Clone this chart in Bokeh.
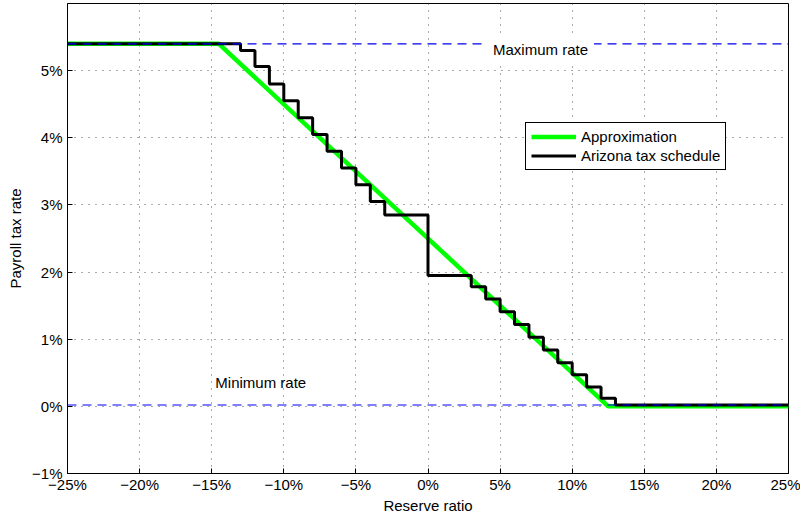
from bokeh.plotting import figure
from bokeh.models import Range1d, FixedTicker, Label, Legend, LegendItem, Span
from bokeh.embed import file_html
from bokeh.resources import INLINE

# ---- data ----
x_ticks = [-25, -20, -15, -10, -5, 0, 5, 10, 15, 20, 25]
x_tick_labels = ["\u221225%", "\u221220%", "\u221215%", "\u221210%", "\u22125%", "0%",
                 "5%", "10%", "15%", "20%", "25%"]
y_ticks = [-1, 0, 1, 2, 3, 4, 5]
y_tick_labels = ["\u22121%", "0%", "1%", "2%", "3%", "4%", "5%"]

# linear approximation (reserve ratio %, payroll tax rate %)
approx_ratio = [-25, -14.5, 12.5, 25]
approx_rate = [5.4, 5.4, 0.0, 0.0]

# Arizona tax schedule: rate applies from each ratio up to the next
schedule_ratio = [-25, -13, -12, -11, -10, -9, -8, -7, -6, -5, -4, -3, 0,
                  3, 4, 5, 6, 7, 8, 9, 10, 11, 12, 13, 25]
schedule_rate = [5.40, 5.30, 5.06, 4.80, 4.55, 4.30, 4.05, 3.80, 3.55, 3.30, 3.05, 2.85, 1.95,
                 1.78, 1.60, 1.41, 1.22, 1.03, 0.84, 0.65, 0.47, 0.29, 0.12, 0.02, 0.02]

max_rate = 5.40
min_rate = 0.02

FONT = "Liberation Sans"
FS = "15px"

p = figure(width=800, height=516,
           x_range=Range1d(-25, 25), y_range=Range1d(-1, 6.0),
           output_backend="svg", toolbar_location=None,
           min_border_left=67, min_border_right=12,
           min_border_top=3, min_border_bottom=43)

p.outline_line_color = "black"
p.outline_line_width = 1
p.outline_line_alpha = 1
p.background_fill_color = "white"
p.border_fill_color = "white"

# axes
for ax in (p.xaxis[0], p.yaxis[0]):
    ax.axis_line_color = "black"
    ax.major_tick_line_color = "black"
    ax.major_tick_in = 5
    ax.major_tick_out = 0
    ax.minor_tick_line_color = None
    ax.major_label_text_font = FONT
    ax.major_label_text_font_size = FS
    ax.major_label_text_color = "black"
    ax.axis_label_text_font = FONT
    ax.axis_label_text_font_size = FS
    ax.axis_label_text_font_style = "normal"
    ax.axis_label_text_color = "black"

p.xaxis.ticker = FixedTicker(ticks=x_ticks)
p.xaxis.major_label_overrides = dict(zip(x_ticks, x_tick_labels))
p.xaxis.axis_label = "Reserve ratio"
p.xaxis.major_label_standoff = 2
p.xaxis.axis_label_standoff = 1

p.yaxis.ticker = FixedTicker(ticks=y_ticks)
p.yaxis.major_label_overrides = dict(zip(y_ticks, y_tick_labels))
p.yaxis.axis_label = "Payroll tax rate"
p.yaxis.major_label_standoff = 5
p.yaxis.axis_label_standoff = 5

# grid
p.xgrid.ticker = FixedTicker(ticks=x_ticks)
p.ygrid.ticker = FixedTicker(ticks=y_ticks)
for g in (p.xgrid[0], p.ygrid[0]):
    g.grid_line_color = "#444444"
    g.grid_line_dash = "1 6"
    g.grid_line_alpha = 0.9
    g.grid_line_width = 1

# data lines
r_approx = p.line(approx_ratio, approx_rate, line_color="#00ff00", line_width=4.5)
r_sched = p.step(schedule_ratio, schedule_rate, mode="after", line_color="black", line_width=3)

# max / min rate lines
p.add_layout(Span(location=max_rate, dimension="width", line_color="#0000ee",
                  line_width=1.3, line_dash="9 6"))
p.add_layout(Span(location=min_rate, dimension="width", line_color="blue",
                  line_alpha=0.5, line_width=2, line_dash="9 6"))

p.add_layout(Label(x=7.8, y=5.32, text="Maximum rate", text_align="center",
                   text_baseline="middle", text_font=FONT, text_font_size=FS,
                   text_color="black", background_fill_color="white",
                   background_fill_alpha=1, padding=6))
p.add_layout(Label(x=-11.6, y=0.36, text="Minimum rate", text_align="center",
                   text_baseline="middle", text_font=FONT, text_font_size=FS,
                   text_color="black"))

legend = Legend(items=[LegendItem(label="Approximation", renderers=[r_approx]),
                       LegendItem(label="Arizona tax schedule", renderers=[r_sched])],
                location=(458, 303))
legend.border_line_color = "black"
legend.border_line_width = 1
legend.border_line_alpha = 1
legend.background_fill_color = "white"
legend.background_fill_alpha = 1
legend.label_text_font = FONT
legend.label_text_font_size = FS
legend.label_text_color = "black"
legend.padding = 5
legend.spacing = 2
legend.margin = 0
legend.glyph_width = 45
legend.glyph_height = 17
legend.label_height = 17
legend.label_standoff = 5
p.add_layout(legend)

open("out.html", "w").write(file_html(p, INLINE))
